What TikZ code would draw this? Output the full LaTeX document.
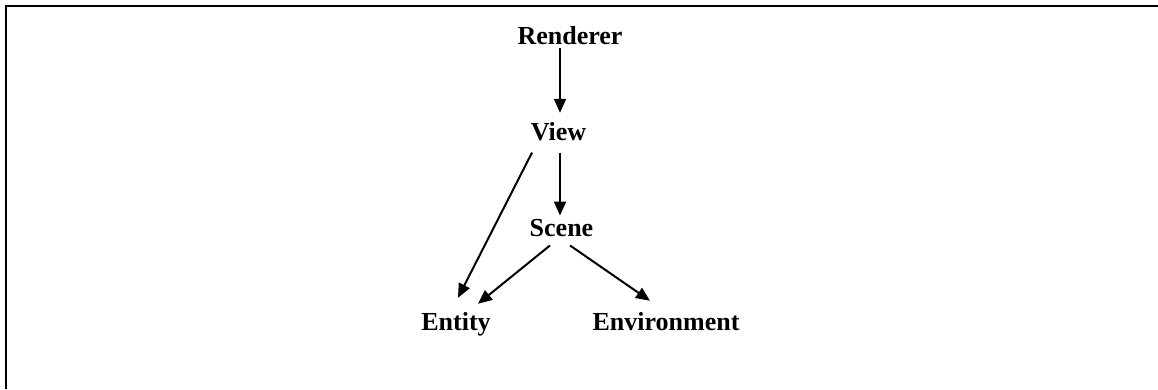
\documentclass[tikz,border=0pt]{standalone}
\usepackage{fontspec}
\setmainfont{Liberation Serif}
\usetikzlibrary{arrows.meta}
\begin{document}
\begin{tikzpicture}[x=1pt,y=1pt,
  lbl/.style={inner sep=0pt, anchor=base, font=\fontsize{26}{30}\selectfont\bfseries},
  arr/.style={line width=2pt, -{Triangle[length=14pt,width=12pt]}},
  frameline/.style={line width=2.5pt}]
\useasboundingbox (0,0) rectangle (1158,389);
\coordinate (fTL) at (6,383);
\coordinate (fTR) at (1158,383);
\coordinate (fBL) at (6,0);
\draw[frameline] (fTR) -- (fTL) -- (fBL);
\node[lbl] (renderer) at (570,344) {Renderer};
\node[lbl] (view) at (558.5,249) {View};
\node[lbl] (scene) at (561.5,153) {Scene};
\node[lbl] (entity) at (456,59) {Entity};
\node[lbl] (env) at (666,59) {Environment};
\draw[arr] ([xshift=-10pt,yshift=-3pt]renderer.south) -- ([xshift=1.5pt,yshift=9pt]view.north);
\draw[arr] ([xshift=1.5pt,yshift=-12pt]view.south) -- ([xshift=-1.5pt,yshift=3pt]scene.north);
\draw[arr] ([xshift=-26.5pt,yshift=-12pt]view.south) -- ([xshift=2pt,yshift=14pt]entity.north);
\draw[arr] ([xshift=-11.5pt,yshift=-9pt]scene.south) -- ([xshift=22pt,yshift=8pt]entity.north);
\draw[arr] ([xshift=8.5pt,yshift=-9pt]scene.south) -- ([xshift=-16pt,yshift=11pt]env.north);
\end{tikzpicture}
\end{document}
